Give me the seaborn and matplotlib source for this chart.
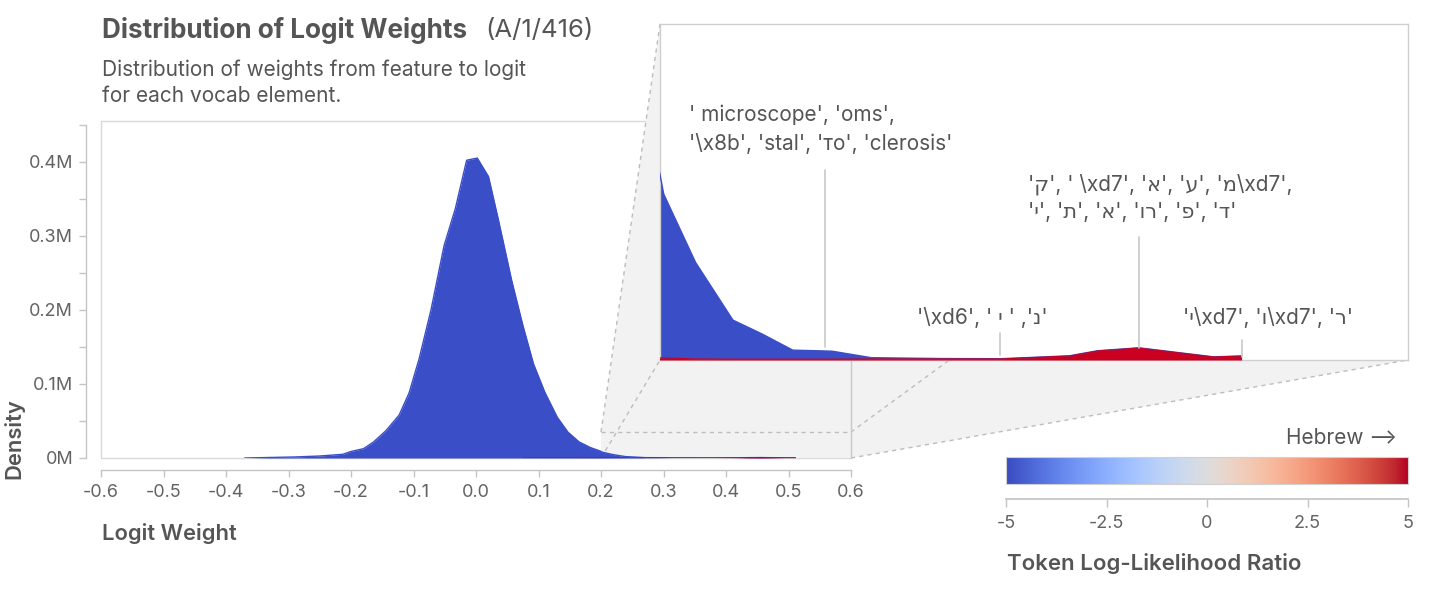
import numpy as np
import pandas as pd
import matplotlib
matplotlib.use("Agg")
import matplotlib.pyplot as plt
import matplotlib.transforms as mtransforms
from matplotlib.patches import Rectangle, Polygon
from matplotlib.lines import Line2D
from matplotlib.ticker import FuncFormatter, MultipleLocator
import seaborn as sns

# histogram of logit weights, density in millions, stacked by token group
logit_weight = [-0.37, -0.29, -0.25, -0.213, -0.201, -0.18, -0.164, -0.144, -0.123, -0.107,
                -0.091, -0.072, -0.051, -0.033, -0.015, 0.002, 0.02, 0.036, 0.057, 0.075,
                0.092, 0.11, 0.13, 0.147, 0.165, 0.183, 0.199, 0.202, 0.219, 0.239,
                0.255, 0.271, 0.292, 0.313, 0.35, 0.382, 0.419, 0.434, 0.456, 0.496, 0.511]
density_other = [0, 0.0014, 0.0027, 0.005, 0.0086, 0.0126, 0.0216, 0.037, 0.058, 0.088,
                 0.134, 0.2, 0.287, 0.337, 0.402, 0.405, 0.38, 0.321, 0.24, 0.179,
                 0.127, 0.089, 0.055, 0.035, 0.0216, 0.014, 0.0092, 0.0078, 0.0046, 0.00186,
                 0.00118, 0.00043, 0.00038, 0.00006, 0.00002, 0.00001, 0.00001, 0.00001, 0.00001, 0.00001,
                 0.0]
density_hebrew = [None] * 19 + [0.00002, 0.00003, 0.00004, 0.00005, 0.00006, 0.00008, 0.0001, 0.0001,
                                0.0001, 0.00005, 0.00004, 0.00004, 0.00004, 0.00004, 0.00005, 0.00005,
                                0.00005, 0.00019, 0.00043, 0.00057, 0.00014, 0.00019]

x_ticks = [-0.6, -0.5, -0.4, -0.3, -0.2, -0.1, 0.0, 0.1, 0.2, 0.3, 0.4, 0.5, 0.6]
y_ticks = [0, 0.1, 0.2, 0.3, 0.4]
cbar_ticks = [-5, -2.5, 0, 2.5, 5]
cbar_labels = ["-5", "-2.5", "0", "2.5", "5"]

# top tokens labelled in the zoomed view
ann_x = [0.288, 0.382, 0.456, 0.511]
ann_text = [
    "' microscope', 'oms',\n'\\x8b', 'stal', 'то', 'clerosis'",
    "'\\xd6', ' י ' ,'נ'",
    "'ק', ' \\xd7', 'א', 'ע', 'מ\\xd7',\n'י', 'ת', 'א', 'ור', 'פ', 'ד'",
    "'י\\xd7', 'ו\\xd7', 'ר'",
]

BLUE = "#3a4ec7"
RED = "#c9001f"
TXT = "#555555"
TICK = "#636363"
AXC = "#c4c4c4"

sns.set_theme(style="white")
plt.rcParams["font.family"] = ["Inter", "DejaVu Sans"]

df = pd.DataFrame({"w": logit_weight, "other": density_other,
                   "hebrew": pd.Series(density_hebrew, dtype=float)})
df["heb0"] = df["hebrew"].fillna(0)
df["stack"] = df["heb0"] + df["other"]

W, H = 1436, 600
fig = plt.figure(figsize=(W / 100, H / 100), dpi=100)


def px(x0, y0, x1, y1):
    return [x0 / W, 1 - y1 / H, (x1 - x0) / W, (y1 - y0) / H]


ax = fig.add_axes(px(101, 121, 851, 458))
ax_in = fig.add_axes(px(660, 24, 1408, 360))
ax_in.set_zorder(3)
cax = fig.add_axes(px(1006, 457, 1408, 484))


def draw_areas(a, lw):
    a.fill_between(df["w"], 0, df["stack"], color=BLUE, lw=0, zorder=2)
    sns.lineplot(data=df, x="w", y="stack", ax=a, color=BLUE, lw=lw, sort=False,
                 estimator=None, zorder=3)
    a.fill_between(df["w"], 0, df["heb0"], color=RED, lw=0, zorder=4,
                   where=df["hebrew"].notna().to_numpy(), interpolate=False)
    sub = df.dropna(subset=["hebrew"])
    sns.lineplot(data=sub, x="w", y="hebrew", ax=a, color=RED, lw=lw * 0.8, sort=False,
                 estimator=None, zorder=5)


# main chart
draw_areas(ax, 1.0)
ax.set_xlim(-0.6, 0.6)
ax.set_ylim(0, 0.455)
ax.set_xlabel("")
ax.set_ylabel("")
for s in ["top", "right"]:
    ax.spines[s].set_visible(False)
ax.spines["left"].set_position(("outward", 11))
ax.spines["bottom"].set_position(("outward", 8.5))
ax.spines["left"].set_bounds(0, 0.45)
ax.spines["bottom"].set_bounds(-0.6, 0.6)
for s in ["left", "bottom"]:
    ax.spines[s].set_color(AXC)
    ax.spines[s].set_linewidth(1)
ax.set_xticks(x_ticks)
ax.xaxis.set_major_formatter(FuncFormatter(lambda v, p: f"{round(v, 1) + 0.0:.1f}"))
ax.set_yticks(y_ticks)
ax.yaxis.set_minor_locator(MultipleLocator(0.05))
ax.yaxis.set_major_formatter(FuncFormatter(lambda v, p: "0M" if v == 0 else f"{v:.1f}M"))
ax.tick_params(axis="both", which="both", length=5, width=1, color=AXC,
               labelcolor=TICK, labelsize=13, bottom=True, left=True)
ax.tick_params(axis="x", pad=5)
ax.tick_params(axis="y", pad=4)
ax.add_patch(Rectangle((0, 0), 1, 1, transform=ax.transAxes, fill=False,
                       edgecolor="#d9d9d9", lw=1, clip_on=False, zorder=0.4))

# zoomed view
draw_areas(ax_in, 1.0)
ax_in.set_xlim(0.2, 0.6)
ax_in.set_ylim(0, 0.016)
ax_in.set_xticks([])
ax_in.set_yticks([])
ax_in.set_xlabel("")
ax_in.set_ylabel("")
ax_in.set_facecolor("white")
for s in ax_in.spines.values():
    s.set_color("#cfcfcf")
    s.set_linewidth(1)

blend = mtransforms.blended_transform_factory(ax_in.transData, ax_in.transAxes)
line_span = [(0.039, 0.565), (0.015, 0.08), (0.036, 0.366), (0.009, 0.06)]
text_pos = [(0.2861, 0.6875), (0.3722, 0.125), (0.4674, 0.482), (0.5251, 0.125)]
for xv, (y0, y1), (tx, ty), t in zip(ann_x, line_span, text_pos, ann_text):
    ax_in.plot([xv, xv], [y0, y1], transform=blend, color="#c8c8c8", lw=1.2, zorder=6)
    ax_in.text(tx, ty, t, transform=blend, ha="center", va="center", multialignment="left",
               fontsize=15, color=TXT, linespacing=1.45, zorder=7)

# zoom connector
fig_inv = fig.transFigure.inverted()


def fpt(tr, x, y):
    return fig_inv.transform(tr.transform((x, y)))


r_bl = fpt(ax.transData, 0.2, 0)
r_br = fpt(ax.transData, 0.6, 0)
r_tl = fpt(ax.transData, 0.2, 0.035)
r_tr = fpt(ax.transData, 0.6, 0.035)
i_bl = fpt(ax_in.transAxes, 0, 0)
i_br = fpt(ax_in.transAxes, 1, 0)
i_tl = fpt(ax_in.transAxes, 0, 1)
i_tr = fpt(ax_in.transAxes, 1, 1)
hull = Polygon([r_bl, r_br, i_br, i_tr, i_tl, r_tl], closed=True, transform=fig.transFigure,
               facecolor="#f2f2f2", edgecolor="none", clip_on=False, zorder=0.5)
ax.add_patch(hull)
for p0, p1 in [(r_tl, i_tl), (r_bl, i_bl), (r_tr, i_tr), (r_br, i_br), (r_tl, r_tr)]:
    ax.add_line(Line2D([p0[0], p1[0]], [p0[1], p1[1]], transform=fig.transFigure,
                       color="#bdbdbd", lw=1, ls=(0, (3, 3)), clip_on=False, zorder=0.6))
ax.add_line(Line2D([r_br[0], r_tr[0]], [r_br[1], fpt(ax_in.transAxes, 0, 0)[1]],
                   transform=fig.transFigure, color="#c8c8c8", lw=1, clip_on=False, zorder=0.6))

# colour scale
grad = np.linspace(-5, 5, 512)[None, :]
cax.imshow(grad, aspect="auto", cmap="coolwarm", extent=[-5, 5, 0, 1], vmin=-5, vmax=5)
cax.set_xlim(-5, 5)
cax.set_yticks([])
for s in ["top", "left", "right"]:
    cax.spines[s].set_visible(False)
cax.spines["bottom"].set_position(("outward", 11))
cax.spines["bottom"].set_color(AXC)
cax.set_xticks(cbar_ticks)
cax.set_xticklabels(cbar_labels)
cax.tick_params(axis="x", length=6, width=1, color=AXC, labelcolor=TICK, labelsize=13,
                pad=5, bottom=True)
cax.add_patch(Rectangle((0, 0), 1, 1, transform=cax.transAxes, fill=False,
                        edgecolor="#d0d0d0", lw=0.8, clip_on=False))

# texts
fig.text(102 / W, 1 - 31 / H, "Distribution of Logit Weights", fontsize=18.8,
         fontweight="bold", color=TXT, va="center", ha="left")
fig.text(485 / W, 1 - 31 / H, "(A/1/416)", fontsize=18.5, color=TXT, va="center", ha="left")
fig.text(102 / W, 1 - 70 / H, "Distribution of weights from feature to logit", fontsize=15,
         color=TXT, va="center", ha="left")
fig.text(102 / W, 1 - 96 / H, "for each vocab element.", fontsize=15,
         color=TXT, va="center", ha="left")
fig.text(102 / W, 1 - 533 / H, "Logit Weight", fontsize=15.8, fontweight="semibold",
         color=TXT, va="center", ha="left")
fig.text(14 / W, 1 - 439 / H, "Density", fontsize=15.8, fontweight="semibold", rotation=90,
         color=TXT, va="center", ha="center")
fig.text(1397 / W, 1 - 438 / H, "Hebrew ⟶", fontsize=15, color=TXT, va="center", ha="right")
fig.text(1007 / W, 1 - 563 / H, "Token Log-Likelihood Ratio", fontsize=16,
         fontweight="semibold", color=TXT, va="center", ha="left")

fig.savefig("out.png", dpi=100)
